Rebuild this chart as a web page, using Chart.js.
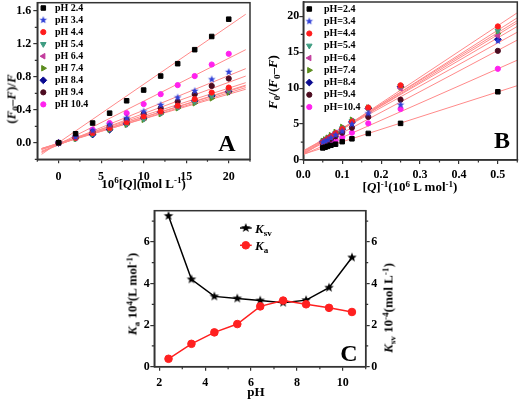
<!DOCTYPE html>
<html><head><meta charset="utf-8">
<script src="https://cdn.jsdelivr.net/npm/chart.js@4/dist/chart.umd.min.js"></script>
<style>
html,body{margin:0;padding:0;background:#fff;}
#wrap{position:relative;width:520px;height:399px;overflow:hidden;background:#fff;}
canvas{position:absolute;left:0;top:0;}
.t{position:absolute;font-family:'Liberation Serif','Times New Roman',serif;font-weight:bold;color:#000;white-space:nowrap;line-height:1;transform:translate(-50%,-50%);z-index:5;}
.r{transform:translate(-50%,-50%) rotate(-90deg);}
.l{transform:translate(0,-50%);}
sub,sup{font-size:70%;line-height:0;position:relative;vertical-align:baseline;}
sup{top:-0.45em;} sub{top:0.3em;}
</style></head>
<body><div id="wrap">
<canvas id="cA" width="520" height="399"></canvas>
<canvas id="cB" width="520" height="399"></canvas>
<canvas id="cC" width="520" height="399"></canvas>
<div class="t r" style="left:10.5px;top:99px;font-size:13px">(<i>F</i><sub>0</sub>–<i>F</i>)/<i>F</i></div>
<div class="t" style="left:143.5px;top:182.5px;font-size:13px">10<sup>6</sup>[<i>Q</i>](mol L<sup>-1</sup>)</div>
<div class="t" style="left:227px;top:143px;font-size:24px">A</div>
<div class="t r" style="left:272px;top:82px;font-size:13px"><i>F</i><sub>0</sub>/(<i>F</i><sub>0</sub>–<i>F</i>)</div>
<div class="t" style="left:410px;top:186px;font-size:13px">[<i>Q</i>]<sup>-1</sup>(10<sup>6</sup> L mol<sup>-1</sup>)</div>
<div class="t" style="left:502px;top:140px;font-size:24px">B</div>
<div class="t r" style="left:131.5px;top:294px;font-size:13px"><i>K</i><sub>a</sub> 10<sup>4</sup>(L mol<sup>-1</sup>)</div>
<div class="t r" style="left:388px;top:308px;font-size:13px"><i>K</i><sub>sv</sub> 10<sup>-4</sup>(mol L<sup>-1</sup>)</div>
<div class="t" style="left:256px;top:390.5px;font-size:13px">pH</div>
<div class="t" style="left:349px;top:353px;font-size:24px">C</div>
<div class="t l" style="left:255px;top:228px;font-size:13px"><i>K</i><sub>sv</sub></div>
<div class="t l" style="left:255px;top:245px;font-size:13px"><i>K</i><sub>a</sub></div>
</div>
<script>
// ---------------- DATA ----------------
const pHValues = [2.4, 3.4, 4.4, 5.4, 6.4, 7.4, 8.4, 9.4, 10.4];
const legendA = ['pH 2.4','pH 3.4','pH 4.4','pH 5.4','pH 6.4','pH 7.4','pH 8.4','pH 9.4','pH 10.4'];
const legendB = ['pH=2.4','pH=3.4','pH=4.4','pH=5.4','pH=6.4','pH=7.4','pH=8.4','pH=9.4','pH=10.4'];

// Panel A: (F0-F)/F vs 10^6[Q]
const concA = [0, 2, 4, 6, 8, 10, 12, 14, 16, 18, 20];
const A_pH24  = [0, 0.11, 0.24, 0.36, 0.51, 0.64, 0.81, 0.96, 1.13, 1.29, 1.50];
const A_pH34  = [0, 0.07, 0.15, 0.22, 0.30, 0.38, 0.46, 0.55, 0.63, 0.77, 0.86];
const A_pH44  = [0, 0.06, 0.12, 0.18, 0.25, 0.32, 0.38, 0.45, 0.53, 0.61, 0.67];
const A_pH54  = [0, 0.05, 0.11, 0.17, 0.23, 0.29, 0.36, 0.43, 0.50, 0.57, 0.64];
const A_pH64  = [0, 0.06, 0.12, 0.18, 0.24, 0.30, 0.37, 0.44, 0.51, 0.58, 0.63];
const A_pH74  = [0, 0.05, 0.11, 0.16, 0.22, 0.28, 0.35, 0.42, 0.48, 0.54, 0.61];
const A_pH84  = [0, 0.06, 0.10, 0.16, 0.23, 0.30, 0.37, 0.44, 0.51, 0.57, 0.62];
const A_pH94  = [0, 0.07, 0.13, 0.20, 0.28, 0.35, 0.42, 0.50, 0.59, 0.69, 0.78];
const A_pH104 = [0, 0.08, 0.16, 0.24, 0.36, 0.47, 0.59, 0.70, 0.81, 0.95, 1.08];
const A_fitX     = [-2, 22];
const A_fitStart = [-0.14, -0.11, -0.07, -0.08, -0.08, -0.07, -0.07, -0.10, -0.12];
const A_fitEnd   = [1.56, 0.90, 0.73, 0.70, 0.67, 0.65, 0.69, 0.81, 1.13];
const ticksAx = [0, 5, 10, 15, 20];
const ticksAy = [0, 0.4, 0.8, 1.2, 1.6];
const minorAx = [-2.5, 2.5, 7.5, 12.5, 17.5, 22.5];
const minorAy = [-0.2, 0.2, 0.6, 1.0, 1.4];

// Panel B: F0/(F0-F) vs [Q]^-1
const invQ = [0.5, 0.25, 0.167, 0.125, 0.1, 0.083, 0.071, 0.0625, 0.056, 0.05];
const B_pH24  = [9.5, 5.1, 3.7, 2.95, 2.55, 2.2, 2.05, 1.9, 1.78, 1.68];
const B_pH34  = [16.6, 7.7, 6.5, 5.0, 4.0, 3.5, 3.1, 2.8, 2.6, 2.45];
const B_pH44  = [18.6, 10.4, 7.3, 5.3, 4.3, 3.7, 3.25, 2.95, 2.7, 2.5];
const B_pH54  = [18.0, 10.3, 7.2, 5.4, 4.4, 3.75, 3.3, 3.0, 2.75, 2.56];
const B_pH64  = [17.3, 10.0, 7.1, 5.4, 4.4, 3.8, 3.35, 3.0, 2.78, 2.6];
const B_pH74  = [17.6, 10.1, 7.3, 5.6, 4.6, 3.9, 3.45, 3.1, 2.85, 2.65];
const B_pH84  = [16.8, 10.2, 7.2, 5.3, 4.3, 3.7, 3.25, 2.95, 2.7, 2.55];
const B_pH94  = [15.2, 8.4, 6.0, 4.5, 3.8, 3.3, 2.95, 2.7, 2.5, 2.3];
const B_pH104 = [12.7, 7.1, 5.1, 3.8, 3.15, 2.7, 2.4, 2.2, 2.05, 1.93];
const B_fitX     = [0, 0.55];
const B_fitStart = [0.8, 1.3, 0.75, 0.85, 1.0, 1.1, 1.2, 0.9, 0.75];
const B_fitEnd   = [10.35, 17.8, 20.5, 19.8, 19.1, 19.4, 18.6, 16.7, 13.9];
const ticksBx = [0, 0.1, 0.2, 0.3, 0.4, 0.5];
const ticksBy = [0, 5, 10, 15, 20];
const minorBx = [0.05, 0.15, 0.25, 0.35, 0.45, 0.55];
const minorBy = [2.5, 7.5, 12.5, 17.5];

// Panel C: Ka and Ksv vs pH
const C_Ksv = [7.25, 4.2, 3.38, 3.28, 3.18, 3.08, 3.2, 3.8, 5.25];
const C_Ka  = [0.38, 1.1, 1.65, 2.05, 2.9, 3.18, 3.0, 2.83, 2.63];
const ticksCx = [2, 4, 6, 8, 10];
const ticksCy = [0, 2, 4, 6];
const minorCx = [3, 5, 7, 9, 11];
const minorCy = [1, 3, 5, 7];

// ---------------- STYLE ----------------
function starImg(r, color){
  const s = Math.ceil(r*2+2), c = document.createElement('canvas');
  c.width = s; c.height = s;
  const g = c.getContext('2d'); g.fillStyle = color; g.beginPath();
  for (let i=0;i<10;i++){ const rr = i%2 ? r*0.42 : r; const a = -Math.PI/2 + i*Math.PI/5;
    g.lineTo(s/2 + rr*Math.cos(a), s/2 + rr*Math.sin(a)); }
  g.closePath(); g.fill(); return c;
}
const styles = [
  {color:'#000000', style:'rect', r:3.2},
  {color:'#2f3fd8', style:starImg(4,'#2f3fd8'), r:4},
  {color:'#ff1c1c', style:'circle', r:2.6},
  {color:'#3d9c80', style:'triangle', rot:180, r:3.2},
  {color:'#c23c9c', style:'triangle', rot:-90, r:3.2},
  {color:'#5b8c1e', style:'triangle', rot:90, r:3.2},
  {color:'#0a0a90', style:'rectRot', r:3.4},
  {color:'#4c0c20', style:'circle', r:2.6},
  {color:'#ff22ee', style:'circle', r:2.6}
];
const fitColor = '#ff8a8a';
const tickFont = {family:'Liberation Serif', weight:'bold', size:12};
const axisColor = '#333';

function drawMarker(ctx, st, x, y){
  if (Chart.helpers && Chart.helpers.drawPoint){
    Chart.helpers.drawPoint(ctx, {pointStyle:st.style, rotation:st.rot||0, radius:st.r, borderWidth:1}, x, y);
  } else { ctx.beginPath(); ctx.arc(x,y,st.r,0,Math.PI*2); ctx.fill(); }
}

function framePlugin(cfg){
  return {id:'frame', afterDraw(chart){
    const {ctx, chartArea:a, scales} = chart;
    ctx.save();
    ctx.strokeStyle = axisColor; ctx.lineWidth = 1.2;
    ctx.beginPath();
    (cfg.minorX||[]).forEach(v=>{const p=scales.x.getPixelForValue(v); ctx.moveTo(p,a.bottom); ctx.lineTo(p,a.bottom+2.5);});
    (cfg.minorY||[]).forEach(v=>{const p=scales[cfg.yId].getPixelForValue(v); ctx.moveTo(a.left-2.5,p); ctx.lineTo(a.left,p);});
    (cfg.minorYR||[]).forEach(v=>{const p=scales.yR.getPixelForValue(v); ctx.moveTo(a.right,p); ctx.lineTo(a.right+2.5,p);});
    ctx.stroke();
    ctx.lineWidth = 1.5;
    ctx.strokeRect(a.left, a.top, a.right-a.left, a.bottom-a.top);
    if (cfg.legend) cfg.legend(ctx);
    ctx.restore();
  }};
}

function legendAB(labels, x0, y0, dy, tx){
  return function(ctx){
    ctx.font = 'bold 10px "Liberation Serif"'; ctx.textBaseline='middle'; ctx.textAlign='left';
    labels.forEach((lab,i)=>{
      const st = styles[i], y = y0 + dy*i;
      ctx.fillStyle = st.color; ctx.strokeStyle = st.color; ctx.lineWidth = 1;
      drawMarker(ctx, st, x0, y);
      ctx.fillStyle = '#000'; ctx.fillText(lab, tx, y);
    });
  };
}

function linScale(min, max, ticks, fmt, fitFn, pad, extra){
  return Object.assign({
    type:'linear', min, max,
    afterFit: s => { fitFn(s); s.paddingTop = 0; s.paddingBottom = 0; s.paddingLeft = 0; s.paddingRight = 0; },
    afterBuildTicks: s => { s.ticks = ticks.map(v=>({value:v})); },
    ticks:{font:tickFont, color:'#000', padding:pad, autoSkip:false, maxRotation:0, callback:fmt},
    grid:{drawOnChartArea:false, drawTicks:true, tickLength:4, color:axisColor, lineWidth:1.2},
    border:{display:true, color:axisColor, width:1.5}
  }, extra||{});
}

function scatterSets(xs, series){
  return series.map((arr,i)=>{
    const st = styles[i];
    return {data: xs.map((x,j)=>({x, y:arr[j]})), pointStyle:st.style, pointRotation:st.rot||0,
      pointRadius:st.r, pointHoverRadius:st.r, backgroundColor:st.color, borderColor:st.color,
      borderWidth:1, showLine:false, order:0};
  });
}
function fitSets(fx, starts, ends){
  return starts.map((s,i)=>({data:[{x:fx[0],y:s},{x:fx[1],y:ends[i]}], showLine:true,
    borderColor:fitColor, borderWidth:1, pointRadius:0, order:10}));
}

const base = {responsive:false, maintainAspectRatio:false, animation:false, devicePixelRatio:1,
  plugins:{legend:{display:false}, tooltip:{enabled:false}}, events:[]};

// ---------------- PANEL A ----------------
const seriesA = [A_pH24, A_pH34, A_pH44, A_pH54, A_pH64, A_pH74, A_pH84, A_pH94, A_pH104];
new Chart(document.getElementById('cA'), {
  type:'scatter',
  data:{datasets:[...fitSets(A_fitX, A_fitStart, A_fitEnd), ...scatterSets(concA, seriesA)]},
  options:Object.assign({}, base, {
    layout:{autoPadding:false, padding:{left:0, top:2.7, right:270, bottom:0}},
    scales:{
      x: linScale(-2.5, 22.5, ticksAx, v=>String(v), s=>{s.height = 399-159.3;}, 6),
      y: linScale(-0.2, 1.7, ticksAy, v=>v.toFixed(1), s=>{s.width = 37.3;}, 2)
    }
  }),
  plugins:[framePlugin({minorX:minorAx, minorY:minorAy, yId:'y', legend:legendAB(legendA, 43.3, 8, 12.05, 55)})]
});

// ---------------- PANEL B ----------------
const seriesB = [B_pH24, B_pH34, B_pH44, B_pH54, B_pH64, B_pH74, B_pH84, B_pH94, B_pH104];
new Chart(document.getElementById('cB'), {
  type:'scatter',
  data:{datasets:[...fitSets(B_fitX, B_fitStart, B_fitEnd), ...scatterSets(invQ, seriesB)]},
  options:Object.assign({}, base, {
    layout:{autoPadding:false, padding:{left:0, top:2, right:2.7, bottom:0}},
    scales:{
      x: linScale(0, 0.55, ticksBx, v=>v.toFixed(1), s=>{s.height = 399-160;}, 4),
      y: linScale(0, 22, ticksBy, v=>String(v), s=>{s.width = 303.3;}, 0)
    }
  }),
  plugins:[framePlugin({minorX:minorBx, minorY:minorBy, yId:'y', legend:legendAB(legendB, 309.3, 9, 12.25, 324)})]
});

// ---------------- PANEL C ----------------
const starBlack = starImg(5, '#000');
const kaStyle = {style:'circle', r:3.8, color:'#ff2020'};
new Chart(document.getElementById('cC'), {
  type:'line',
  data:{datasets:[
    {data:pHValues.map((x,j)=>({x, y:C_Ka[j]})), yAxisID:'yL', borderColor:'#ff2020', backgroundColor:'#ff2020',
      borderWidth:1.5, pointStyle:'circle', pointRadius:3.8, pointBorderWidth:1, order:0},
    {data:pHValues.map((x,j)=>({x, y:C_Ksv[j]})), yAxisID:'yR', borderColor:'#000', backgroundColor:'#000',
      borderWidth:1.5, pointStyle:starBlack, pointRadius:5, order:1}
  ]},
  options:Object.assign({}, base, {
    layout:{autoPadding:false, padding:{left:0, top:210.7, right:0, bottom:0}},
    scales:{
      x: linScale(1.78, 11.0, ticksCx, v=>String(v), s=>{s.height = 399-366.7;}, 5.5),
      yL: linScale(0, 7.5, ticksCy, v=>String(v), s=>{s.width = 154.3;}, 0.5, {position:'left'}),
      yR: linScale(0, 7.5, ticksCy, v=>String(v), s=>{s.width = 520-365.7;}, 1.5, {position:'right'})
    }
  }),
  plugins:[framePlugin({minorX:minorCx, minorY:minorCy, minorYR:minorCy, yId:'yL', legend:function(ctx){
    ctx.lineWidth = 1.5;
    ctx.strokeStyle = '#000'; ctx.beginPath(); ctx.moveTo(240,228); ctx.lineTo(251.7,228); ctx.stroke();
    ctx.drawImage(starBlack, 245.8 - starBlack.width/2, 228 - starBlack.height/2);
    ctx.strokeStyle = '#ff2020'; ctx.fillStyle = '#ff2020';
    ctx.beginPath(); ctx.moveTo(240,245.3); ctx.lineTo(251.7,245.3); ctx.stroke();
    ctx.lineWidth = 1;
    drawMarker(ctx, kaStyle, 245.8, 245.3);
  }})]
});
</script>
</body></html>
